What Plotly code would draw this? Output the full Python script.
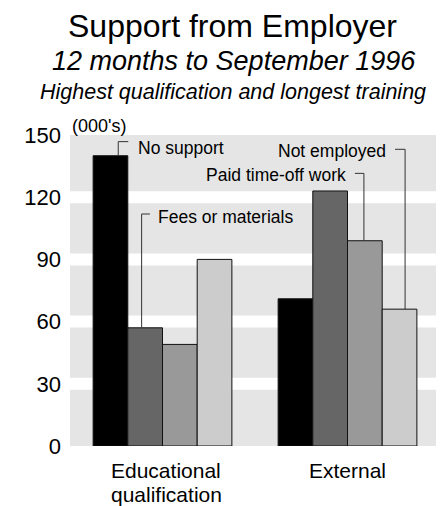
import plotly.graph_objects as go

# ---- data ----
categories = ["Educational<br>qualification", "External"]
series_names = ["No support", "Fees or materials", "Paid time-off work", "Not employed"]
no_support = [140, 71]
fees_or_materials = [57, 123]
paid_time_off = [49, 99]
not_employed = [90, 66]
y_ticks = [0, 30, 60, 90, 120, 150]

series_values = [no_support, fees_or_materials, paid_time_off, not_employed]
colors = ["#000000", "#666666", "#999999", "#cccccc"]

ARIAL = "Liberation Sans, Arial, sans-serif"

bargap = 0.25
fig = go.Figure()
for name, vals, col in zip(series_names, series_values, colors):
    fig.add_trace(go.Bar(
        x=categories, y=vals, name=name,
        marker=dict(color=col, line=dict(color="#111111", width=1)),
        showlegend=False,
    ))

# background bands
fig.add_shape(type="rect", xref="paper", yref="y", x0=0, x1=1, y0=0, y1=150,
              fillcolor="#e5e5e5", line=dict(width=0), layer="below")
for v in y_ticks[1:-1]:
    fig.add_shape(type="line", xref="paper", yref="y", x0=0, x1=1, y0=v, y1=v,
                  line=dict(color="white", width=12), layer="below")

# leader labels
w = (1 - bargap) / 4


def bar_center(cat_idx, s_idx):
    return cat_idx + (s_idx - 1.5) * w

# (series index, category index, x offset of vertical from bar centre, horizontal y,
#  horizontal end x, text x, text y, anchor)
labels = [
    (0, 0, 0.042, 146.8, -0.185, -0.143, 143.85, "left"),
    (1, 0, -0.019, 111.9, -0.068, -0.034, 110.45, "left"),
    (2, 1, -0.005, 131.5, 1.040, 1.004, 130.95, "right"),
    (3, 1, 0.030, 143.1, 1.257, 1.220, 142.15, "right"),
]
for s_idx, c_idx, dx, hy, hx, tx, ty, anc in labels:
    vx = bar_center(c_idx, s_idx) + dx
    top = series_values[s_idx][c_idx]
    lc = "#333333"
    fig.add_shape(type="line", xref="x", yref="y", x0=vx, x1=vx, y0=top, y1=hy,
                  line=dict(color=lc, width=1))
    fig.add_shape(type="line", xref="x", yref="y", x0=vx, x1=hx, y0=hy, y1=hy,
                  line=dict(color=lc, width=1))
    fig.add_annotation(x=tx, y=ty, xref="x", yref="y", text=series_names[s_idx],
                       showarrow=False, xanchor=anc, yanchor="middle",
                       font=dict(family=ARIAL, size=17.5, color="black"))

# category labels (one annotation per line)
line_y = [-0.0785, -0.1555]
for ci, cat in enumerate(categories):
    for li, part in enumerate(cat.split("<br>")):
        fig.add_annotation(x=ci + 0.02 if ci == 0 else ci, y=line_y[li], xref="x", yref="paper",
                           text=part, showarrow=False, xanchor="center", yanchor="middle",
                           font=dict(family=ARIAL, size=21, color="black"))

# titles
fig.add_annotation(x=0.44, y=1.352, xref="paper", yref="paper", text="Support from Employer",
                   showarrow=False, xanchor="center", yanchor="middle",
                   font=dict(family=ARIAL, size=32, color="black"))
fig.add_annotation(x=0.443, y=1.238, xref="paper", yref="paper", text="<i>12 months to September 1996</i>",
                   showarrow=False, xanchor="center", yanchor="middle",
                   font=dict(family=ARIAL, size=27, color="black"))
fig.add_annotation(x=0.44, y=1.137, xref="paper", yref="paper",
                   text="<i>Highest qualification and longest training</i>",
                   showarrow=False, xanchor="center", yanchor="middle",
                   font=dict(family=ARIAL, size=21.5, color="black"))
fig.add_annotation(x=0.078, y=1.029, xref="paper", yref="paper", text="(000's)",
                   showarrow=False, xanchor="center", yanchor="middle",
                   font=dict(family=ARIAL, size=18, color="black"))

fig.update_layout(
    width=436, height=498,
    margin=dict(l=62, r=4, t=127, b=60),
    paper_bgcolor="white", plot_bgcolor="white",
    barmode="group", bargap=bargap, bargroupgap=0,
    xaxis=dict(type="category", range=[-0.5, 1.5], showgrid=False, zeroline=False,
               showline=False, ticks="", showticklabels=False, automargin=False),
    yaxis=dict(range=[0, 150], tickvals=y_ticks, showgrid=False, zeroline=False,
               showline=False, ticks="", ticklabelstandoff=8, automargin=False,
               tickfont=dict(family=ARIAL, size=22, color="black")),
)

fig.write_html("out.html")
